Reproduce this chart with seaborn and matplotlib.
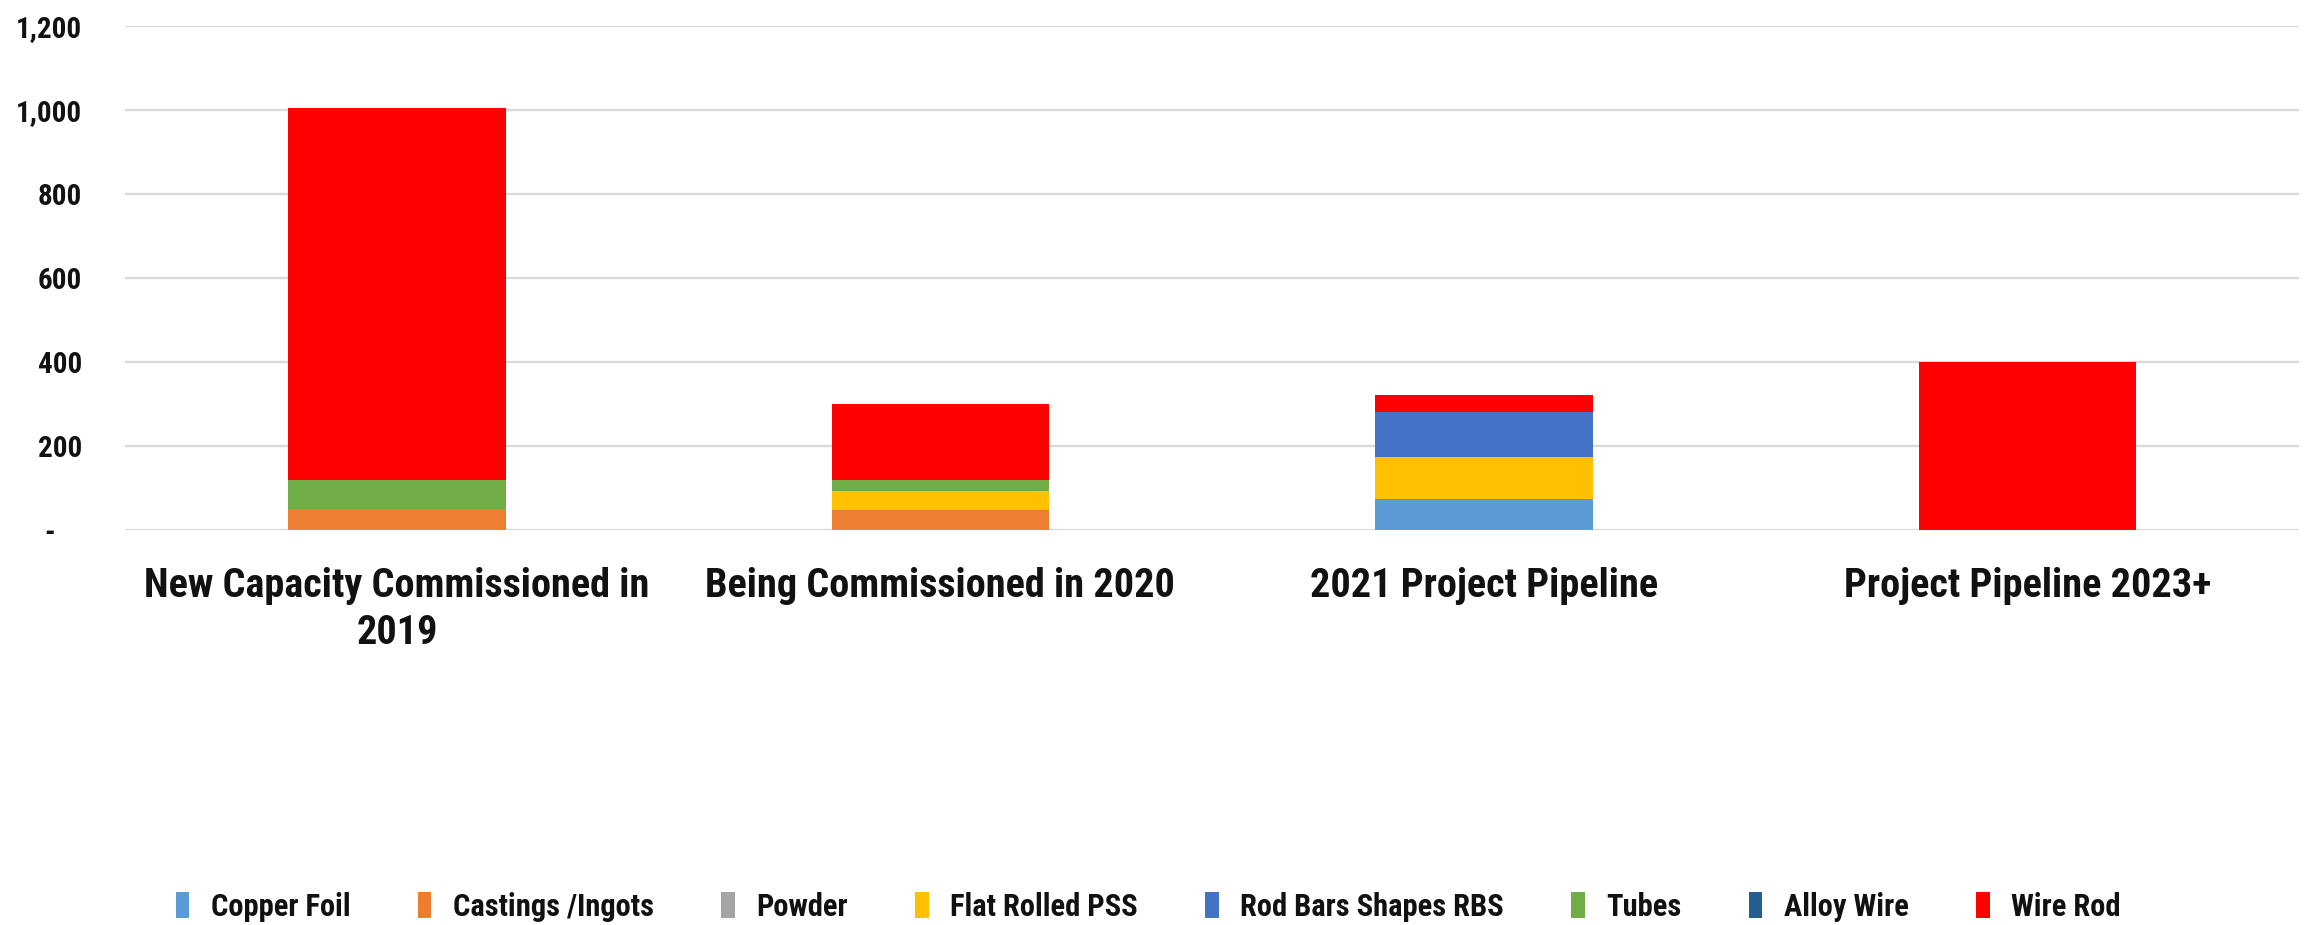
import textwrap
import numpy as np
import pandas as pd
import matplotlib
matplotlib.use("Agg")
import matplotlib.pyplot as plt
from matplotlib.patches import Patch
from matplotlib.ticker import FuncFormatter
import seaborn as sns

# ================= data =================
categories = ["New Capacity Commissioned in 2019", "Being Commissioned in 2020",
              "2021 Project Pipeline", "Project Pipeline 2023+"]
series_names = ["Copper Foil", "Castings /Ingots", "Powder", "Flat Rolled PSS",
                "Rod Bars Shapes RBS", "Tubes", "Alloy Wire", "Wire Rod"]
copper_foil = [0, 0, 76, 0]
castings = [52, 48, 0, 0]
powder = [0, 0, 0, 0]
flat_rolled = [0, 45, 100, 0]
rod_bars = [0, 0, 105, 0]
tubes = [67, 28, 0, 0]
alloy_wire = [0, 0, 0, 0]
wire_rod = [886, 179, 41, 400]
colors = ["#5B9BD5", "#ED7D31", "#A5A5A5", "#FFC000",
          "#4472C4", "#70AD47", "#255E91", "#FF0000"]
y_ticks = [0, 200, 400, 600, 800, 1000, 1200]

df = pd.DataFrame({"category": categories})
for name, vals in zip(series_names, [copper_foil, castings, powder, flat_rolled,
                                      rod_bars, tubes, alloy_wire, wire_rod]):
    df[name] = vals

# cumulative sums -> draw from the top layer down so each overlays the next
cum = df[series_names].cumsum(axis=1)
cum["category"] = df["category"]

# ================= style =================
sns.set_style("white")
plt.rcParams["font.family"] = ["Roboto Condensed", "Roboto", "DejaVu Sans"]
plt.rcParams["font.weight"] = "bold"
plt.rcParams["text.color"] = "#111111"

fig = plt.figure(figsize=(23.1, 9.25), dpi=100)
ax = fig.add_axes([0.0542, 0.4265, 0.9411, 0.545])

for name, col in reversed(list(zip(series_names, colors))):
    sns.barplot(data=cum, x="category", y=name, color=col, width=0.4,
                saturation=1, order=categories, ax=ax, linewidth=0)

ax.set_xlim(-0.5, 3.5)
ax.set_ylim(0, 1200)
ax.set_yticks(y_ticks)
ax.yaxis.set_major_formatter(FuncFormatter(lambda v, p: "-    " if v == 0 else f"{int(v):,}"))
ax.grid(axis="y", color="#D9D9D9", linewidth=1.6)
ax.set_axisbelow(True)
for s in ax.spines.values():
    s.set_visible(False)
ax.set_xlabel("")
ax.set_ylabel("")
ax.set_xticks(range(len(categories)))
ax.set_xticklabels([textwrap.fill(c, 29) for c in categories], fontsize=29,
                   fontweight="bold", linespacing=1.3, va="top", color="#111111")
ax.tick_params(axis="x", length=0, pad=26)
ax.tick_params(axis="y", length=0, pad=31, labelsize=21, labelcolor="#111111")
for t in ax.get_yticklabels():
    t.set_fontweight("bold")

handles = [Patch(facecolor=c, edgecolor="none", label=n) for n, c in zip(series_names, colors)]
fig.legend(handles=handles, loc="center", bbox_to_anchor=(0.497, 0.02), ncol=8,
           frameon=False, fontsize=22, handlelength=0.45, handleheight=0.9,
           handletextpad=0.7, columnspacing=2.2)

fig.savefig("out.png", dpi=100)
